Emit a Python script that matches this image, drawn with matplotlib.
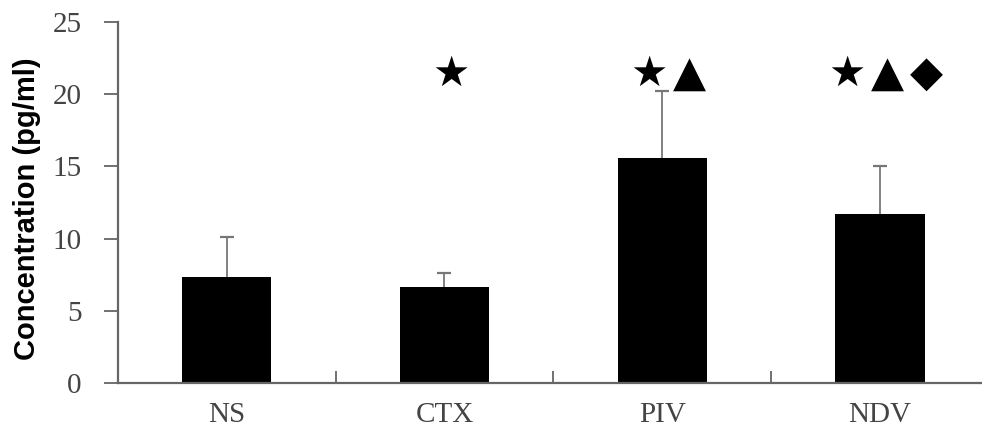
import matplotlib.pyplot as plt
import numpy as np

# data
groups = ['NS', 'CTX', 'PIV', 'NDV']
means = [7.32, 6.67, 15.58, 11.70]
sds = [2.77, 0.97, 4.62, 3.30]
marks = [[], ['★'], ['★', '▲'], ['★', '▲', '◆']]  # significance symbols
yticks = [0, 5, 10, 15, 20, 25]

fig = plt.figure(figsize=(9.82, 4.30), dpi=100)
ax = fig.add_axes([0.120, 0.1093, 0.887, 0.8395])

x = np.arange(len(groups))
ax.bar(x, means, width=0.41, color='black', zorder=2)
# symmetric bars drawn under the columns, so only the upper half shows
ax.errorbar(x, means, yerr=sds, fmt='none',
            ecolor='#777777', elinewidth=1.3, capsize=5, capthick=1.6, zorder=1)

# significance marks, ~40 px apart
sizes = {'★': 30, '▲': 31, '◆': 31}
for xi, ms in zip(x, marks):
    n = len(ms)
    for i, m in enumerate(ms):
        off = (i - (n - 1) / 2) * 28.5 + 5
        ax.annotate(m, xy=(xi, 21.4), xytext=(off, 0), textcoords='offset points',
                    ha='center', va='center', fontsize=sizes[m],
                    family=['DejaVu Sans'], color='black')

ax.set_xlim(-0.5, 3.5)
ax.set_ylim(0, 25)
ax.set_yticks(yticks)
ax.set_yticklabels([str(t) for t in yticks], family='Liberation Serif',
                   fontsize=21, color='#444444')
ax.set_xticks(x)
ax.set_xticklabels(groups, family='Liberation Serif', fontsize=21, color='#444444')
ax.tick_params(axis='x', length=0, pad=14)
ax.set_xticks(x[:-1] + 0.5, minor=True)
ax.tick_params(axis='x', which='minor', direction='in', length=9, width=1.3, color='#666666')
ax.tick_params(axis='y', direction='out', length=10, width=1.3, color='#666666', pad=16)

for s in ['top', 'right']:
    ax.spines[s].set_visible(False)
for s in ['left', 'bottom']:
    ax.spines[s].set_color('#666666')
    ax.spines[s].set_linewidth(1.6)

fig.text(0.028, 0.515, 'Concentration (pg/ml)', rotation=90, ha='center', va='center',
         family='Liberation Sans', fontweight='bold', fontsize=21)

plt.savefig('out.png', dpi=100)
